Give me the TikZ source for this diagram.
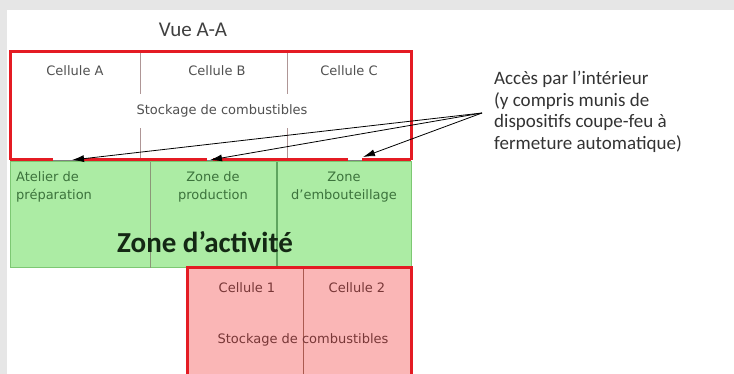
\documentclass[tikz,border=0pt]{standalone}
\usepackage{fontspec}
\newfontfamily\dvs{DejaVu Sans}
\newfontfamily\carl{Carlito}
\usetikzlibrary{arrows.meta}
\definecolor{framegray}{RGB}{230,230,230}
\definecolor{redb}{RGB}{228,27,35}
\definecolor{topdiv}{RGB}{175,150,150}
\definecolor{toptext}{RGB}{80,80,80}
\definecolor{greenfill}{RGB}{172,236,164}
\definecolor{greenline}{RGB}{125,200,115}
\definecolor{greendivA}{RGB}{140,150,120}
\definecolor{greendivB}{RGB}{95,165,95}
\definecolor{greentext}{RGB}{60,115,60}
\definecolor{actext}{RGB}{20,40,20}
\definecolor{pinkfill}{RGB}{250,182,182}
\definecolor{pinkdiv}{RGB}{170,90,80}
\definecolor{pinktext}{RGB}{120,55,55}
\begin{document}
\begin{tikzpicture}[x=1pt,y=-1pt,
  lbl/.style={font=\dvs\fontsize{13}{18.5}\selectfont, inner sep=1pt},
  redframe/.style={draw=redb, line width=3pt, line join=miter},
  accarrow/.style={-{Latex[length=12pt,width=7pt]}, line width=0.8pt, black}]
\useasboundingbox (0,0) rectangle (734,374);
% grey frame strips
\fill[framegray] (0,0) rectangle (734,10);
\fill[framegray] (0,0) rectangle (7,374);

% ---- top storage block
\draw[topdiv, line width=0.8pt] (140,52) -- (140,160);
\draw[topdiv, line width=0.8pt] (287,52) -- (287,160);
\draw[redframe] (10,160) |- (411,52) -- (411,160);
\draw[gray, line width=0.6pt] (10,160) -- (411,160);
\foreach \a/\b in {10/53, 80/207, 213/348, 362/411}
  \draw[redb, line width=3.5pt] (\a,160) -- (\b,160);

\node[lbl, text=toptext] (cA) at (75,71) {Cellule A};
\node[lbl, text=toptext] (cB) at (217,71) {Cellule B};
\node[lbl, text=toptext] (cC) at (349,71) {Cellule C};
\node[lbl, text=toptext, fill=white, inner sep=3pt, minimum height=34pt] (stk1) at (222,111) {Stockage de combustibles};

\node[font=\carl\fontsize{21}{24}\selectfont, text=toptext!80!black] (vue) at (193,30) {Vue A-A};

% ---- activity zone
\filldraw[fill=greenfill, draw=greenline, line width=1pt] (10,162) rectangle (411,268);
\draw[greendivA, line width=0.8pt] (150,162) -- (150,268);
\draw[greendivB, line width=1.4pt] (277,162) -- (277,268);
\node[lbl, text=greentext, align=left, anchor=west] (atl) at (15,187) {Atelier de\\préparation};
\node[lbl, text=greentext, align=center] (zp) at (213,187) {Zone de\\production};
\node[lbl, text=greentext, align=center] (ze) at (344,187) {Zone\\d’embouteillage};
\node[font=\carl\bfseries\fontsize{29}{32}\selectfont, text=actext] (za) at (205,242) {Zone d’activité};

% ---- bottom storage block
\fill[pinkfill] (187,268) rectangle (411,374);
\draw[pinkdiv, line width=0.8pt] (303,268) -- (303,374);
\draw[redframe] (187,376) |- (411,268) -- (411,376);
\node[lbl, text=pinktext] (c1) at (247,288) {Cellule 1};
\node[lbl, text=pinktext] (c2) at (357,288) {Cellule 2};
\node[lbl, text=pinktext] (stk2) at (303,340) {Stockage de combustibles};

% ---- access note and arrows
\node[font=\carl\fontsize{19}{21.7}\selectfont, text=black!80, align=left, anchor=north west, inner sep=0pt] (acc) at (494,71)
  {Accès par l’intérieur\\(y compris munis de\\dispositifs coupe-feu à\\fermeture automatique)};
\coordinate (src) at (482,113);
\coordinate (t1) at (72,160);
\coordinate (t2) at (210,160);
\coordinate (t3) at (363,157);
\draw[accarrow] (src) -- (t1);
\draw[accarrow] (src) -- (t2);
\draw[accarrow] (src) -- (t3);
\end{tikzpicture}
\end{document}
